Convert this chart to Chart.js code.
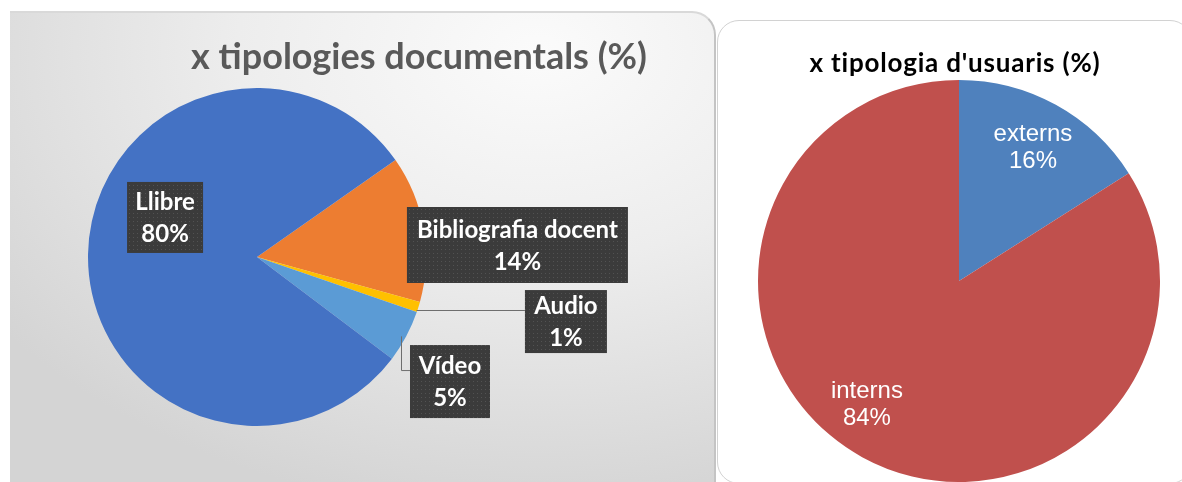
<!DOCTYPE html>
<html><head><meta charset="utf-8">
<script src="https://cdn.jsdelivr.net/npm/chart.js@4.4.1/dist/chart.umd.min.js"></script>
<style>
html,body{margin:0;padding:0;background:#fff;width:1182px;height:482px;overflow:hidden;}
body{position:relative;font-family:Lato,"DejaVu Sans",sans-serif;}
#leftPanel{position:absolute;left:10px;top:11px;width:706px;height:490px;border-top-right-radius:24px;
  background:radial-gradient(ellipse 95% 95% at 75% 8%, #fbfbfb 0%, #ededed 45%, #d4d4d4 100%);
  border-top:2px solid #d9d9d9;border-right:2px solid #c4c4c4;box-sizing:border-box;}
#rightPanel{position:absolute;left:717px;top:20px;width:475px;height:464px;border:1.5px solid #d2d2d2;border-radius:22px;background:#fff;box-sizing:border-box;}
#leftTitle{position:absolute;left:419px;top:37px;transform:translateX(-50%);white-space:nowrap;font:700 36px Lato,sans-serif;color:#595959;line-height:36px;}
#rightTitle{position:absolute;left:955px;top:49px;transform:translateX(-50%);white-space:nowrap;font:700 26px Lato,sans-serif;letter-spacing:0.8px;color:#000;line-height:26px;}
canvas{position:absolute;top:0;}
#c1{left:0;}
#c2{left:720px;}
</style></head>
<body>
<div id="leftPanel"></div>
<div id="rightPanel"></div>
<canvas id="c1" width="720" height="482"></canvas>
<canvas id="c2" width="462" height="482"></canvas>
<div id="leftTitle">x tipologies documentals (%)</div>
<div id="rightTitle">x tipologia d'usuaris (%)</div>
<script>
// ---- data ----
const docCategories = ['Bibliografia docent', 'Audio', 'Vídeo', 'Llibre'];
const docValues = [14, 1, 5, 80];
const userCategories = ['externs', 'interns'];
const userValues = [16, 84];

// ---- styles ----
const docColors = ['#ED7D31', '#FFC000', '#5B9BD5', '#4472C4'];
const userColors = ['#4F81BD', '#C0504D'];
// label box placement relative to pie centre, in units of radius
const docLabelLayout = [
  {dx: 1.541, dy: -0.071, w: 221, h: 76, leader: null},
  {dx: 1.828, dy: 0.382, w: 82, h: 63, leader: 'h'},
  {dx: 1.142, dy: 0.737, w: 80, h: 73, leader: 'v'},
  {dx: -0.544, dy: -0.234, w: 76, h: 71, leader: null}
];
const userLabelLayout = [
  {dx: 0.368, dy: -0.667},
  {dx: -0.458, dy: 0.612}
];

function makePattern(ctx) {
  const c = document.createElement('canvas');
  c.width = 4; c.height = 4;
  const g = c.getContext('2d');
  g.fillStyle = '#3b3b3b'; g.fillRect(0, 0, 4, 4);
  g.fillStyle = '#525252'; g.fillRect(1, 1, 1, 1);
  return ctx.createPattern(c, 'repeat');
}

const docLabelPlugin = {
  id: 'docLabels',
  afterDraw(chart) {
    const ctx = chart.ctx;
    const meta = chart.getDatasetMeta(0);
    const pat = makePattern(ctx);
    meta.data.forEach((arc, i) => {
      const L = docLabelLayout[i];
      const r = arc.outerRadius, cx = arc.x, cy = arc.y;
      const bx = cx + L.dx * r, by = cy + L.dy * r;
      const left = bx - L.w / 2, top = by - L.h / 2;
      const mid = (arc.startAngle + arc.endAngle) / 2;
      const ex = cx + Math.cos(mid) * r, ey = cy + Math.sin(mid) * r;
      ctx.save();
      ctx.strokeStyle = '#6e6e6e'; ctx.lineWidth = 1;
      if (L.leader === 'h') {
        const ly = Math.round(ey) + 3.5;
        ctx.beginPath(); ctx.moveTo(ex - 2, ly); ctx.lineTo(left, ly); ctx.stroke();
      } else if (L.leader === 'v') {
        const ty = top + 25;
        ctx.beginPath(); ctx.moveTo(Math.round(ex) - 4.5, ey); ctx.lineTo(Math.round(ex) - 4.5, ty + 0.5); ctx.lineTo(left, ty + 0.5); ctx.stroke();
      }
      ctx.fillStyle = pat;
      ctx.fillRect(left, top, L.w, L.h);
      ctx.fillStyle = '#ffffff';
      ctx.font = '700 24px Lato';
      ctx.textAlign = 'center'; ctx.textBaseline = 'middle';
      ctx.fillText(chart.data.labels[i], bx, by - 15);
      ctx.fillText(chart.data.datasets[0].data[i] + '%', bx, by + 17);
      ctx.restore();
    });
  }
};

const userLabelPlugin = {
  id: 'userLabels',
  afterDraw(chart) {
    const ctx = chart.ctx;
    const meta = chart.getDatasetMeta(0);
    meta.data.forEach((arc, i) => {
      const L = userLabelLayout[i];
      const r = arc.outerRadius;
      const bx = arc.x + L.dx * r, by = arc.y + L.dy * r;
      ctx.save();
      ctx.fillStyle = '#ffffff';
      ctx.font = '24px "Liberation Sans", Arial';
      ctx.textAlign = 'center'; ctx.textBaseline = 'middle';
      ctx.fillText(chart.data.labels[i], bx, by - 13);
      ctx.fillText(chart.data.datasets[0].data[i] + '%', bx, by + 14);
      ctx.restore();
    });
  }
};

function build() {
  new Chart(document.getElementById('c1'), {
    type: 'pie',
    data: {labels: docCategories, datasets: [{data: docValues, backgroundColor: docColors, borderWidth: 0}]},
    options: {
      responsive: false, animation: false, rotation: 55,
      layout: {padding: {left: 88, right: 294, top: 88, bottom: 56}},
      plugins: {legend: {display: false}, tooltip: {enabled: false}}
    },
    plugins: [docLabelPlugin]
  });
  new Chart(document.getElementById('c2'), {
    type: 'pie',
    data: {labels: userCategories, datasets: [{data: userValues, backgroundColor: userColors, borderWidth: 0}]},
    options: {
      responsive: false, animation: false,
      layout: {padding: {left: 38, right: 22, top: 80, bottom: 0}},
      plugins: {legend: {display: false}, tooltip: {enabled: false}}
    },
    plugins: [userLabelPlugin]
  });
}
Promise.all([
  document.fonts.load('700 24px Lato'),
  document.fonts.load('24px "Liberation Sans"')
]).then(build, build);
</script>
</body></html>
